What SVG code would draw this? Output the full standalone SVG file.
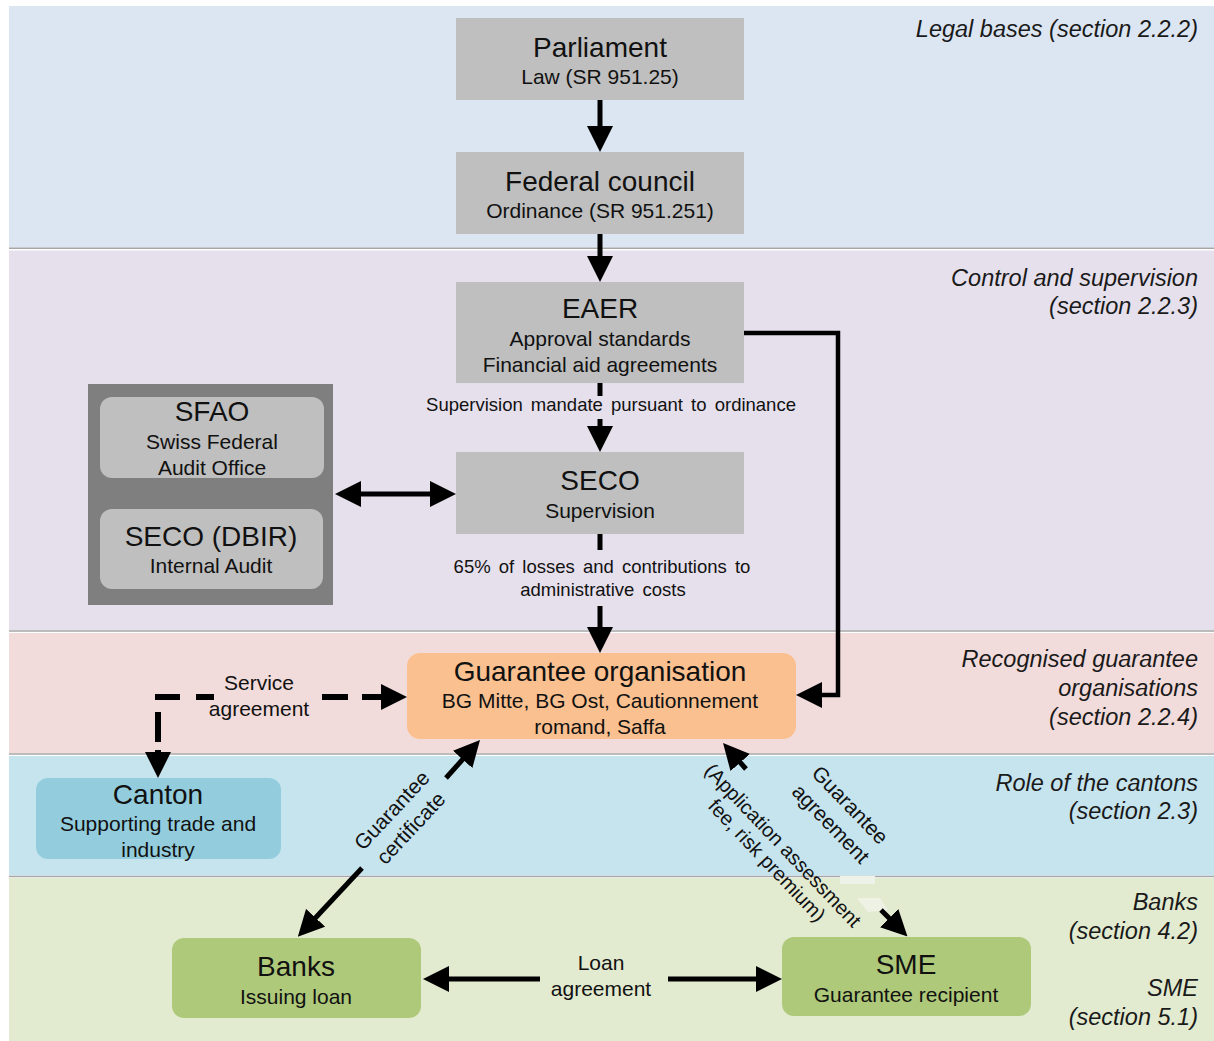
<svg xmlns="http://www.w3.org/2000/svg" width="1214" height="1041" viewBox="0 0 1214 1041">
<style>
text{font-family:"Liberation Sans",Arial,sans-serif;fill:#111}
.t{font-size:28px;text-anchor:middle}
.s{font-size:21px;text-anchor:middle}
.c{font-size:18.5px;text-anchor:middle;word-spacing:3px}
.sec{font-size:23.5px;font-style:italic;text-anchor:end;fill:#1a1a1a}
.gray{fill:#bfbfbf}
.ln{stroke:#000;stroke-width:5;fill:none}
.sep{stroke:#a6a6a6;stroke-width:1.5}
</style>
<defs>
<marker id="ah" markerUnits="userSpaceOnUse" markerWidth="26" markerHeight="26" refX="14" refY="13" orient="auto-start-reverse">
<path d="M0,0 L26,13 L0,26 z" fill="#000"/>
</marker>
</defs>
<rect width="1214" height="1041" fill="#fff"/>
<g id="bands">
<rect x="9" y="6" width="1205" height="241.5" fill="#dce6f2"/>
<line class="sep" x1="9" y1="248.3" x2="1214" y2="248.3"/>
<rect x="9" y="250.5" width="1205" height="379.5" fill="#e6e0ec"/>
<line class="sep" x1="9" y1="631" x2="1214" y2="631"/>
<rect x="9" y="633" width="1205" height="120" fill="#f2dcdb"/>
<line class="sep" x1="9" y1="754" x2="1214" y2="754"/>
<rect x="9" y="756" width="1205" height="119.5" fill="#c6e4ee"/>
<line class="sep" x1="9" y1="876.5" x2="1214" y2="876.5"/>
<rect x="9" y="878" width="1205" height="163" fill="#e2ebd0"/>
<rect x="840" y="876" width="35" height="8" fill="#eef3ea"/>
<path d="M857,898 L880,898 L888,910 L868,912 z" fill="#eef2e4"/>
</g>
<g id="section-labels">
<text class="sec" x="1198" y="37">Legal bases (section 2.2.2)</text>
<text class="sec" x="1198" y="286">Control and supervision</text>
<text class="sec" x="1198" y="314">(section 2.2.3)</text>
<text class="sec" x="1198" y="667">Recognised guarantee</text>
<text class="sec" x="1198" y="696">organisations</text>
<text class="sec" x="1198" y="725">(section 2.2.4)</text>
<text class="sec" x="1198" y="791">Role of the cantons</text>
<text class="sec" x="1198" y="819">(section 2.3)</text>
<text class="sec" x="1198" y="910">Banks</text>
<text class="sec" x="1198" y="939">(section 4.2)</text>
<text class="sec" x="1198" y="996">SME</text>
<text class="sec" x="1198" y="1025">(section 5.1)</text>
</g>
<g id="n-parliament">
<rect class="gray" x="456" y="18" width="288" height="82"/>
<text class="t" x="600" y="57">Parliament</text>
<text class="s" x="600" y="84">Law (SR 951.25)</text>
</g>
<g id="n-federal-council">
<rect class="gray" x="456" y="152" width="288" height="82"/>
<text class="t" x="600" y="191">Federal council</text>
<text class="s" x="600" y="218">Ordinance (SR 951.251)</text>
</g>
<g id="n-eaer">
<rect class="gray" x="456" y="282" width="288" height="101"/>
<text class="t" x="600" y="318">EAER</text>
<text class="s" x="600" y="346">Approval standards</text>
<text class="s" x="600" y="372">Financial aid agreements</text>
</g>
<g id="n-seco">
<rect class="gray" x="456" y="452" width="288" height="82"/>
<text class="t" x="600" y="490">SECO</text>
<text class="s" x="600" y="518">Supervision</text>
</g>
<g id="n-audit">
<rect x="88" y="384" width="245" height="221" fill="#7f7f7f"/>
<g id="n-sfao">
<rect class="gray" x="100" y="397" width="224" height="81" rx="12"/>
<text class="t" x="212" y="421">SFAO</text>
<text class="s" x="212" y="449">Swiss Federal</text>
<text class="s" x="212" y="475">Audit Office</text>
</g>
<g id="n-dbir">
<rect class="gray" x="100" y="509" width="223" height="80" rx="12"/>
<text class="t" x="211" y="546">SECO (DBIR)</text>
<text class="s" x="211" y="573">Internal Audit</text>
</g>
</g>
<g id="n-guarantee">
<rect x="407" y="653" width="389" height="86" rx="13" fill="#fac090"/>
<text class="t" x="600" y="681">Guarantee organisation</text>
<text class="s" x="600" y="708">BG Mitte, BG Ost, Cautionnement</text>
<text class="s" x="600" y="734">romand, Saffa</text>
</g>
<g id="n-canton">
<rect x="36" y="778" width="245" height="81" rx="12" fill="#93cddd"/>
<text class="t" x="158" y="804">Canton</text>
<text class="s" x="158" y="831">Supporting trade and</text>
<text class="s" x="158" y="857">industry</text>
</g>
<g id="n-banks">
<rect x="172" y="938" width="249" height="80" rx="12" fill="#afc97a"/>
<text class="t" x="296" y="976">Banks</text>
<text class="s" x="296" y="1004">Issuing loan</text>
</g>
<g id="n-sme">
<rect x="782" y="937" width="249" height="79" rx="12" fill="#afc97a"/>
<text class="t" x="906" y="974">SME</text>
<text class="s" x="906" y="1002">Guarantee recipient</text>
</g>
<g id="connectors">
<path class="ln" d="M600,100 V140" marker-end="url(#ah)"/>
<path class="ln" d="M600,234 V270" marker-end="url(#ah)"/>
<path class="ln" d="M600,383 V396"/>
<path class="ln" d="M600,419 V440" marker-end="url(#ah)"/>
<text class="c" x="611" y="411">Supervision mandate pursuant to ordinance</text>
<path class="ln" d="M600,534 V550"/>
<path class="ln" d="M600,606 V641" marker-end="url(#ah)"/>
<text class="c" x="602" y="573">65% of losses and contributions to</text>
<text class="c" x="603" y="596">administrative costs</text>
<path class="ln" style="stroke-width:4.5" d="M744,333 H838 V695 H808" marker-end="url(#ah)"/>
<path class="ln" d="M347,494 H444" marker-start="url(#ah)" marker-end="url(#ah)"/>
<path class="ln" style="stroke-width:6" d="M155,697 H180 M196,697 H214 M322,697 H348 M158,712 V742"/>
<path class="ln" style="stroke-width:6" d="M362,697 H395" marker-end="url(#ah)"/>
<path class="ln" style="stroke-width:6" d="M158,750 V766" marker-end="url(#ah)"/>
<text class="s" x="259" y="690">Service</text>
<text class="s" x="259" y="716">agreement</text>
<path class="ln" d="M446,778 L472,749" marker-end="url(#ah)"/>
<path class="ln" d="M362,868 L306,928" marker-end="url(#ah)"/>
<g transform="translate(400,818) rotate(-47)">
<text class="s" x="0" y="-4">Guarantee</text>
<text class="s" x="0" y="22">certificate</text>
</g>
<path class="ln" d="M746,769 L731,752" marker-end="url(#ah)"/>
<path class="ln" d="M881,910 L899,928" marker-end="url(#ah)"/>
<g transform="translate(845,810) rotate(46)">
<text class="s" x="0" y="0">Guarantee</text>
<text class="s" x="0" y="27">agreement</text>
</g>
<g transform="translate(778,850) rotate(46.5)">
<text class="s" style="font-size:20px" x="0" y="0">(Application assessment</text>
<text class="s" style="font-size:20px" x="0" y="22">fee, risk premium)</text>
</g>
<path class="ln" d="M540,979 H435" marker-end="url(#ah)"/>
<path class="ln" d="M668,979 H770" marker-end="url(#ah)"/>
<text class="s" x="601" y="970">Loan</text>
<text class="s" x="601" y="996">agreement</text>
</g>
</svg>
